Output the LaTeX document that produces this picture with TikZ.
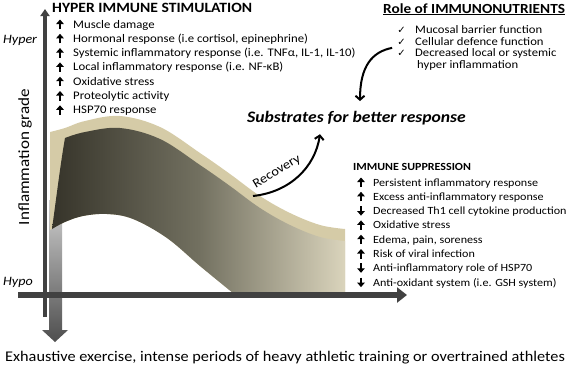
\documentclass[tikz,border=0pt]{standalone}
\usepackage{fontspec}
\setmainfont{Carlito}[FakeStretch=1.1]
\newfontfamily\symfont{DejaVu Sans}
\usetikzlibrary{positioning, arrows.meta, calc}

\definecolor{axisgray}{HTML}{414141}
\definecolor{ribbontan}{HTML}{D5CBA7}
\definecolor{faceDark}{HTML}{36342A}
\definecolor{faceMid}{HTML}{727060}
\definecolor{faceLight}{HTML}{DAD4BC}
\definecolor{barTop}{HTML}{D0D0D0}
\definecolor{barBot}{HTML}{4E4E4E}

\newcommand{\chk}{{\symfont ✓}}

\begin{document}
\begin{tikzpicture}[x=1pt, y=-1pt,
    txt/.style={inner sep=0pt, anchor=base west, font=\fontsize{11.6}{14}\selectfont},
    head/.style={inner sep=0pt, anchor=base west, font=\fontsize{14.2}{17}\selectfont\bfseries},
    listarrow/.style={line width=1.5pt, -{Triangle[length=4.5pt, width=7.5pt]}},
    bigarrow/.style={line width=2pt, -{Straight Barb[length=4pt, width=9pt]}},
  ]
  \useasboundingbox (0,0) rectangle (570,365);

  % gray arrow behind the ribbon
  \shade[top color=barTop, bottom color=barBot]
    (49,200) -- (62,200) -- (62,330) -- (68,330) -- (55,342) -- (42,330) -- (49,330) -- cycle;

  % ribbon: top surface and front face
  \fill[ribbontan] plot[smooth, tension=0.6] coordinates {(50,132) (65,128) (85,121) (120,116) (160,127) (200,153) (230,174) (260,196) (290,213) (320,225) (345,229)}
    -- (345,293) -- plot[smooth, tension=0.6] coordinates {(233,293) (200,266) (167,238) (133,219) (107,214) (83,216) (65,222) (50,230)} -- cycle;
  \shade[left color=faceDark, right color=faceLight, middle color=faceMid] plot[smooth, tension=0.6] coordinates {(65,138) (85,132) (120,128) (160,139) (200,165) (230,186) (260,208) (290,225) (320,237) (345,241)}
    -- (345,293) -- plot[smooth, tension=0.6] coordinates {(233,293) (200,266) (167,238) (133,219) (107,214) (83,216) (65,222) (52,229)}
    .. controls (56,200) and (61,160) .. (65,138) -- cycle;

  % axes
  \draw[axisgray, line width=3.5pt, -{Triangle[length=7pt, width=9pt]}] (45,317) -- (45,9);
  \draw[axisgray, line width=5.5pt, -{Triangle[length=10pt, width=15pt]}] (18,295) -- (407,295);

  \node[inner sep=0pt, rotate=90, font=\fontsize{15.5}{18}\selectfont] (ylabel) at (25,157) {Inflammation grade};
  \node[txt, font=\fontsize{12.8}{15}\selectfont\itshape] (hyper) at (3,43) {Hyper};
  \node[txt, font=\fontsize{12.8}{15}\selectfont\itshape] (hypo) at (3,285) {Hypo};

  % hyper immune stimulation
  \node[head] (stimhead) at (52,12) {HYPER IMMUNE STIMULATION};
  \foreach \txt [count=\i] in {Muscle damage, {Hormonal response (i.e cortisol, epinephrine)},
      {Systemic inflammatory response (i.e. TNFα, IL-1, IL-10)}, Local inflammatory response (i.e. NF-κB),
      Oxidative stress, Proteolytic activity, HSP70 response} {
    \draw[listarrow] (60, {28+14.3*(\i-1)+1}) -- (60, {28+14.3*(\i-1)-8.5});
    \node[txt] (stim\i) at (73, {28+14.3*(\i-1)}) {\txt};
  }

  % immunonutrients
  \node[head, font=\fontsize{13.9}{16}\selectfont\bfseries] (rolehead) at (383,13) {\underline{Role of IMMUNONUTRIENTS}};
  \foreach \txt [count=\i] in {Mucosal barrier function, Cellular defence function, Decreased local or systemic} {
    \node[inner sep=0pt, anchor=base, font=\fontsize{10}{12}\selectfont] (nuta\i) at (401.5, {33.3+11.8*(\i-1)}) {\chk};
    \node[txt, font=\fontsize{11.5}{13}\selectfont] (nut\i) at (415, {33.3+11.8*(\i-1)}) {\txt};
  }
  \node[txt, font=\fontsize{11.5}{13}\selectfont] (nut4) at (417, 68.7) {hyper inflammation};

  \node[txt, font=\fontsize{16}{18}\selectfont\bfseries\itshape] (subs) at (247,122.5) {Substrates for better response};

  \coordinate (nutstart) at ($(nuta2.west)!0.5!(nuta3.west)+(-5,0)$);
  \draw[bigarrow] (nutstart) .. controls +(-20,4) and +(0,-35) .. ([xshift=113pt,yshift=10pt]subs.north west);

  % recovery
  \coordinate (recstart) at (253,196);
  \draw[bigarrow] (recstart) .. controls +(37,-4) and +(-5,33) .. ([xshift=73pt,yshift=-9pt]subs.south west);
  \node[inner sep=0pt, rotate=31, font=\fontsize{13}{15}\selectfont] (rec) at (277,172) {Recovery};

  % immune suppression
  \node[head, font=\fontsize{10.9}{13}\selectfont\bfseries] (supphead) at (353,170) {IMMUNE SUPPRESSION};
  \foreach \s/\txt [count=\i] in {1/Persistent inflammatory response, 1/Excess anti-inflammatory response,
      -1/Decreased Th1 cell cytokine production, 1/Oxidative stress, 1/{Edema, pain, soreness},
      1/Risk of viral infection, -1/Anti-inflammatory role of HSP70, -1/Anti-oxidant system (i.e. GSH system)} {
    \draw[listarrow] (361, {186+14.3*(\i-1)-3.75+4.75*\s}) -- (361, {186+14.3*(\i-1)-3.75-4.75*\s});
    \node[txt, font=\fontsize{11}{13}\selectfont] (supp\i) at (373, {186+14.3*(\i-1)}) {\txt};
  }

  \node[txt, font=\fontsize{14.8}{17}\selectfont] (cause) at (5,361) {Exhaustive exercise, intense periods of heavy athletic training or overtrained athletes};
\end{tikzpicture}
\end{document}
